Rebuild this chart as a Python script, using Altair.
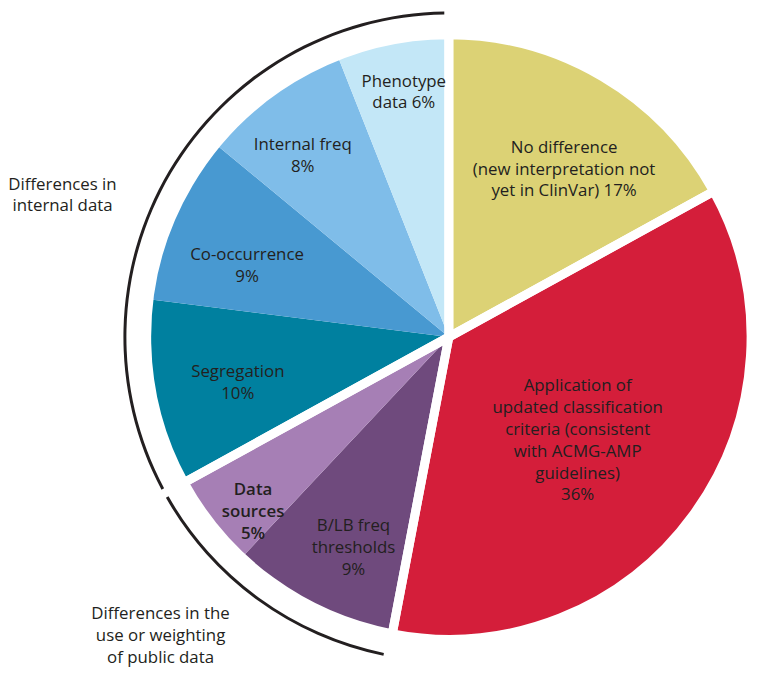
import altair as alt
import pandas as pd

# ---- data ----
names = ["No difference", "Application", "B/LB freq", "Data sources",
         "Segregation", "Co-occurrence", "Internal freq", "Phenotype"]
labels = [
    "No difference\n(new interpretation not\nyet in ClinVar) 17%",
    "Application of\nupdated classification\ncriteria (consistent\nwith ACMG-AMP\nguidelines)\n36%",
    "B/LB freq\nthresholds\n9%",
    "Data\nsources\n5%",
    "Segregation\n10%",
    "Co-occurrence\n9%",
    "Internal freq\n8%",
    "Phenotype\ndata 6%",
]
values = [17, 36, 9, 5, 10, 9, 8, 6]
groups = ["none", "criteria", "public", "public",
          "internal", "internal", "internal", "internal"]
bracket_groups = ["internal", "public"]
bracket_texts = ["Differences in\ninternal data",
                 "Differences in the\nuse or weighting\nof public data"]

# ---- styling / layout ----
colors = ["#DCD275", "#D41E3A", "#6F4A7D", "#A67FB5",
          "#00809F", "#4899D1", "#7FBDE9", "#C3E7F7"]
label_r = [205, 167, 234, 265, 218, 216, 235, 251]      # px from centre
label_dtheta = [1.1, 0.8, -0.75, -1.1, -0.4, -1.1, -0.8, 0.1]  # nudge in %
CX, CY, R = 445, 329, 305
FONT = "Open Sans"
FS = 17
LH = 22
TXT = "#231f20"

df = pd.DataFrame({"name": names, "label": labels, "value": values, "group": groups})
df["end"] = df["value"].cumsum()
df["start"] = df["end"] - df["value"]
df["mid"] = (df["start"] + df["end"]) / 2 + pd.Series(label_dtheta)
df["lr"] = label_r
df["bold"] = df["name"] == "Data sources"
df["nlines"] = df["label"].str.count("\n") + 1

gdf = df.groupby("group", sort=False).agg(start=("start", "min"), end=("end", "max")).reset_index()
bdf = gdf[gdf["group"].isin(bracket_groups)]

tscale = alt.Scale(domain=[0, 100], range=[0, 6.283185307179586])

slices = alt.Chart(df).mark_arc(strokeWidth=0).encode(
    theta=alt.Theta("start:Q", scale=tscale),
    theta2=alt.Theta2("end:Q"),
    color=alt.Color("name:N", scale=alt.Scale(domain=names, range=colors), legend=None),
    x=alt.value(CX), y=alt.value(CY), radius=alt.value(R),
)

gaps = alt.Chart(gdf).mark_arc(fillOpacity=0, stroke="white", strokeWidth=9,
                               strokeJoin="round").encode(
    theta=alt.Theta("start:Q", scale=tscale),
    theta2=alt.Theta2("end:Q"),
    x=alt.value(CX), y=alt.value(CY), radius=alt.value(R),
)

brackets = alt.Chart(bdf).mark_arc(color=TXT, padAngle=0.02).encode(
    theta=alt.Theta("start:Q", scale=tscale),
    theta2=alt.Theta2("end:Q"),
    x=alt.value(CX), y=alt.value(CY),
    radius=alt.value(328.5), radius2=alt.value(325.5),
)

label_layers = []
for n in sorted(df["nlines"].unique()):
    for bold in (False, True):
        sub = df[(df["nlines"] == n) & (df["bold"] == bold)]
        if sub.empty:
            continue
        label_layers.append(
            alt.Chart(sub).mark_text(
                font=FONT, fontSize=FS, color=TXT, lineBreak="\n", lineHeight=LH,
                align="center", baseline="middle", dy=-(int(n) - 1) * LH / 2,
                fontWeight=600 if bold else 500,
            ).encode(
                theta=alt.Theta("mid:Q", scale=tscale, stack=False),
                radius=alt.Radius("lr:Q", scale=None),
                text="label:N",
                x=alt.value(CX), y=alt.value(CY),
            )
        )

ann_internal = alt.Chart(pd.DataFrame({"t": [bracket_texts[0]]})).mark_text(
    font=FONT, fontSize=FS, color=TXT, lineBreak="\n", lineHeight=21,
    align="center", baseline="middle", dy=-10.5,
).encode(text="t:N", x=alt.value(55), y=alt.value(186))

ann_public = alt.Chart(pd.DataFrame({"t": [bracket_texts[1]]})).mark_text(
    font=FONT, fontSize=FS, color=TXT, lineBreak="\n", lineHeight=22.5,
    align="center", baseline="middle", dy=-22.5,
).encode(text="t:N", x=alt.value(154), y=alt.value(631))

chart = alt.layer(
    slices, gaps, brackets, *label_layers, ann_internal, ann_public
).properties(width=740, height=650, padding=0).configure_view(strokeWidth=0)

chart.save("out.html", embed_options={"renderer": "svg", "actions": False})
